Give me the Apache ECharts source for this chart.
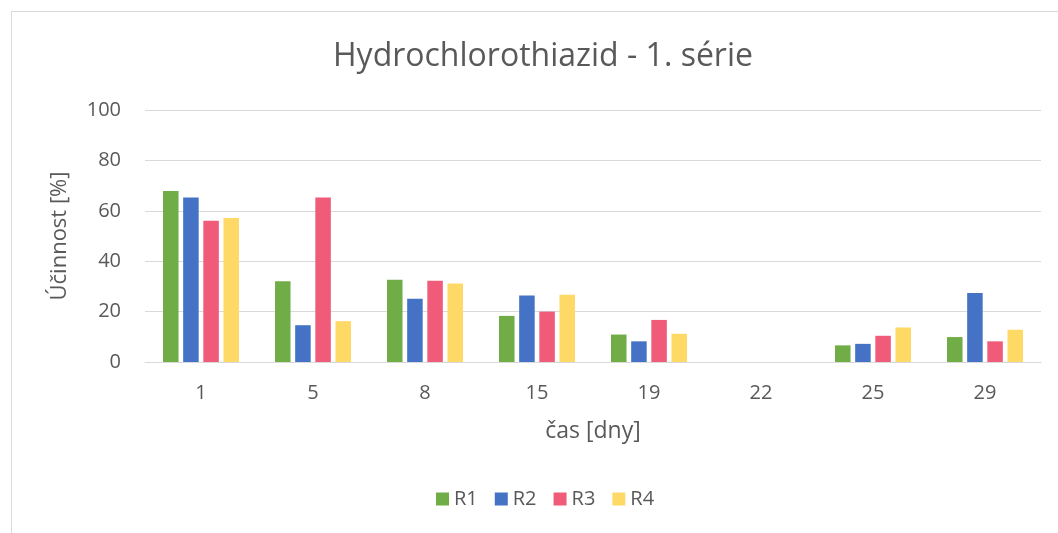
<!DOCTYPE html>
<html>
<head>
<meta charset="utf-8">
<script src="https://cdn.jsdelivr.net/npm/echarts@6/dist/echarts.min.js"></script>
<style>
  html, body { margin: 0; padding: 0; background: #fff; overflow: hidden; }
  #frame { position: absolute; left: 11px; top: 11px; width: 1200px; height: 700px; border: 1px solid #d9d9d9; box-sizing: border-box; }
  #chart { position: absolute; left: 0; top: 0; width: 1058px; height: 533px; }
</style>
</head>
<body>
<div id="frame"></div>
<div id="chart"></div>
<script>
// čas [dny]
const days = ['1', '5', '8', '15', '19', '22', '25', '29']
// účinnost [%] per reactor, day 22 has no data
const r1 = [67.9, 32.0, 32.6, 18.3, 10.9, null, 6.6, 9.9]
const r2 = [65.3, 14.6, 25.1, 26.4, 8.2, null, 7.2, 27.4]
const r3 = [56.1, 65.3, 32.2, 20.0, 16.7, null, 10.4, 8.2]
const r4 = [57.1, 16.2, 31.2, 26.7, 11.2, null, 13.7, 12.8]
const seriesNames = ['R1', 'R2', 'R3', 'R4']
const colors = ['#70ad47', '#4472c4', '#ef5b79', '#ffd966']

const font = 'Open Sans'
const textColor = '#595959'

const chart = echarts.init(document.getElementById('chart'))
const series = [r1, r2, r3, r4].map((data, i) => ({
  name: seriesNames[i],
  type: 'bar',
  data,
  barWidth: 15.5,
  barGap: '30%',
  itemStyle: { color: colors[i] }
}))

chart.setOption({
  animation: false,
  color: colors,
  title: {
    text: 'Hydrochlorothiazid - 1. série',
    left: 328,
    top: 36,
    textStyle: { fontFamily: font, fontSize: 32, fontWeight: 'normal', color: textColor }
  },
  legend: {
    data: seriesNames,
    bottom: 19,
    left: 431,
    itemWidth: 13,
    itemHeight: 13,
    itemGap: 17,
    icon: 'rect',
    textStyle: { fontFamily: font, fontSize: 20, color: textColor }
  },
  grid: {
    left: 145,
    top: 110,
    width: 896,
    height: 252
  },
  xAxis: {
    type: 'category',
    data: days,
    name: 'čas [dny]',
    nameLocation: 'middle',
    nameGap: 58,
    nameTextStyle: { fontFamily: font, fontSize: 23, color: textColor },
    axisLine: { lineStyle: { color: '#d9d9d9', width: 1 } },
    axisTick: { show: false },
    axisLabel: { fontFamily: font, fontSize: 20, color: textColor, margin: 21 }
  },
  yAxis: {
    type: 'value',
    min: 0,
    max: 100,
    interval: 20,
    name: 'Účinnost [%]',
    nameLocation: 'middle',
    nameGap: 74,
    nameTextStyle: { fontFamily: font, fontSize: 22, color: textColor },
    axisLine: { show: false },
    axisTick: { show: false },
    splitLine: { lineStyle: { color: '#d9d9d9', width: 1 } },
    axisLabel: { fontFamily: font, fontSize: 20, color: textColor, margin: 24 }
  },
  series
})
</script>
</body>
</html>
